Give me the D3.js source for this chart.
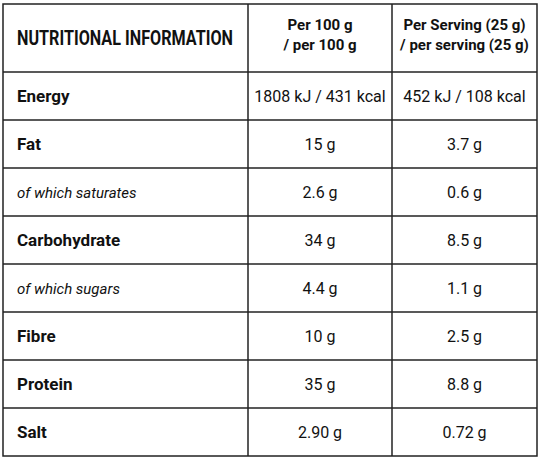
<!DOCTYPE html>
<html><head><meta charset="utf-8">
<script src="https://cdn.jsdelivr.net/npm/d3@7"></script>
<style>body{margin:0;background:#fff}text{font-family:"Liberation Sans Narrow","Roboto",sans-serif;fill:#111}</style>
</head><body><svg id="viz" width="540" height="460"></svg>
<script>
const headers = ['NUTRITIONAL INFORMATION', ['Per 100 g', '/ per 100 g'], ['Per Serving (25 g)', '/ per serving (25 g)']];
const nutrients = ['Energy', 'Fat', 'of which saturates', 'Carbohydrate', 'of which sugars', 'Fibre', 'Protein', 'Salt'];
const sub = [false, false, true, false, true, false, false, false];
const per100 = ['1808 kJ / 431 kcal', '15 g', '2.6 g', '34 g', '4.4 g', '10 g', '35 g', '2.90 g'];
const perServing = ['452 kJ / 108 kcal', '3.7 g', '0.6 g', '8.5 g', '1.1 g', '2.5 g', '8.8 g', '0.72 g'];

(() => {
const svg = d3.select('#viz');
const x0 = 3, x1 = 537, y0 = 4, y1 = 456, headH = 68;
const colEdges = [x0, 248, 392, x1];
const y = d3.scaleBand().domain(d3.range(nutrients.length)).range([y0 + headH, y1]);

// grid
svg.append('rect').attr('x', x0).attr('y', y0).attr('width', x1 - x0).attr('height', y1 - y0)
  .attr('fill', 'none').attr('stroke', '#222').attr('stroke-width', 1.5);
svg.selectAll('line.row').data(d3.range(nutrients.length)).join('line')
  .attr('x1', x0).attr('x2', x1)
  .attr('y1', (d) => y(d)).attr('y2', (d) => y(d))
  .attr('stroke', '#222').attr('stroke-width', 1.5);
svg.selectAll('line.col').data(colEdges.slice(1, 3)).join('line')
  .attr('x1', (d) => d).attr('x2', (d) => d).attr('y1', y0).attr('y2', y1)
  .attr('stroke', '#222').attr('stroke-width', 1.5);

// header
svg.append('text').attr('x', 17).attr('y', y0 + headH / 2 + 7)
  .attr('font-size', 21).attr('font-weight', 'bold').attr('textLength', 216).attr('lengthAdjust', 'spacingAndGlyphs')
  .text(headers[0]);
[1, 2].forEach((c) => {
  const cx = (colEdges[c] + colEdges[c + 1]) / 2;
  headers[c].forEach((line, i) => {
    svg.append('text').attr('x', cx).attr('y', y0 + 26 + i * 20).attr('text-anchor', 'middle')
      .attr('font-size', 15).attr('font-weight', 'bold').text(line);
  });
});

// body
const rows = svg.selectAll('g.r').data(nutrients).join('g')
  .attr('transform', (d, i) => `translate(0,${y(i) + y.bandwidth() / 2 + 6})`);
rows.append('text').attr('x', 17)
  .attr('font-size', (d, i) => sub[i] ? 15 : 17)
  .attr('font-weight', (d, i) => sub[i] ? 'normal' : 'bold')
  .attr('font-style', (d, i) => sub[i] ? 'italic' : 'normal')
  .text((d) => d);
rows.append('text').attr('x', (colEdges[1] + colEdges[2]) / 2).attr('text-anchor', 'middle')
  .attr('font-size', 16).text((d, i) => per100[i]);
rows.append('text').attr('x', (colEdges[2] + colEdges[3]) / 2).attr('text-anchor', 'middle')
  .attr('font-size', 16).text((d, i) => perServing[i]);
})();
</script></body></html>
